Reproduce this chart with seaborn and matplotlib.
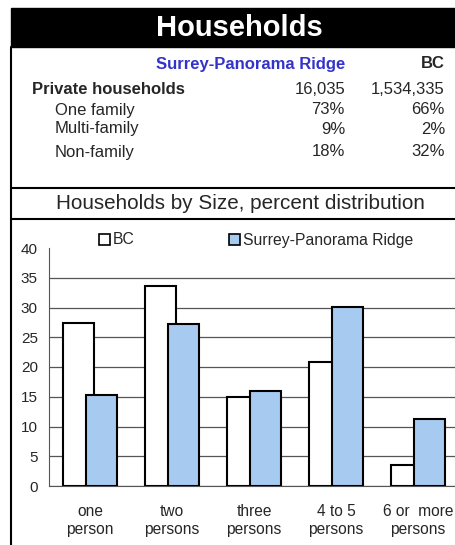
import numpy as np
import pandas as pd
import seaborn as sns
import matplotlib.pyplot as plt
from matplotlib.lines import Line2D
from matplotlib.patches import Rectangle, Patch

# data
area_name = "Surrey-Panorama Ridge"
row_labels = ["Private households", "One family", "Multi-family", "Non-family"]
area_values = ["16,035", "73%", "9%", "18%"]
bc_values = ["1,534,335", "66%", "2%", "32%"]

size_cats = ["one\nperson", "two\npersons", "three\npersons", "4 to 5\npersons", "6 or  more\npersons"]
bc_pct = [27.4, 33.6, 14.9, 20.9, 3.5]
area_pct = [15.3, 27.3, 16.0, 30.1, 11.3]

sns.set_style("white")
plt.rcParams['font.family'] = ['Liberation Sans', 'DejaVu Sans']

W, H = 455, 545
fig = plt.figure(figsize=(W / 100, H / 100), dpi=100)


def fx(x):
    return x / W


def fy(y):
    return 1 - y / H


# header bar
fig.add_artist(Rectangle((fx(11), fy(47)), fx(455) - fx(11), fy(8) - fy(47),
                         transform=fig.transFigure, color='black', zorder=0))
fig.text(fx(239), fy(28), "Households", color='white', fontsize=21, fontweight='bold',
         ha='center', va='center')

# box lines
for seg in [((11, 11), (47, 545)), ((11, 455), (188, 188)), ((11, 455), (219, 219))]:
    fig.add_artist(Line2D([fx(v) for v in seg[0]], [fy(v) for v in seg[1]],
                          transform=fig.transFigure, color='black', lw=1.5))

# summary table
tfs = 12
fig.text(fx(345), fy(64), area_name, color='#3333CC', fontsize=tfs, fontweight='bold',
         ha='right', va='center')
fig.text(fx(445), fy(64), "BC", fontsize=tfs, fontweight='bold', ha='right', va='center')
row_y = [89, 110, 129, 152]
for i, (lab, a, b) in enumerate(zip(row_labels, area_values, bc_values)):
    if i == 0:
        fig.text(fx(32), fy(row_y[i]), lab, fontsize=tfs, fontweight='bold', va='center')
    else:
        fig.text(fx(55), fy(row_y[i]), lab, fontsize=tfs, va='center')
    fig.text(fx(345), fy(row_y[i]), a, fontsize=tfs, ha='right', va='center')
    fig.text(fx(445), fy(row_y[i]), b, fontsize=tfs, ha='right', va='center')

fig.text(fx(240), fy(203), "Households by Size, percent distribution", fontsize=14.9,
         ha='center', va='center')

# bar chart
ax = fig.add_axes([fx(49), fy(486), fx(455) - fx(49), fy(248) - fy(486)])
pos = np.arange(len(size_cats))
sns.barplot(x=pos - 0.14, y=bc_pct, native_scale=True, width=0.38, color='white',
            edgecolor='black', linewidth=1.5, errorbar=None, ax=ax, zorder=2)
sns.barplot(x=pos + 0.14, y=area_pct, native_scale=True, width=0.38, color='#A6CAF0',
            saturation=1, edgecolor='black', linewidth=1.5, errorbar=None, ax=ax, zorder=3)

ax.set_xlim(-0.5, 4.45)
ax.set_ylim(0, 40)
ax.set_yticks(range(0, 41, 5))
ax.set_xticks(pos)
ax.set_xticklabels(size_cats, fontsize=11.2, linespacing=1.25)
ax.set_yticklabels([str(v) for v in range(0, 41, 5)], fontsize=11)
ax.tick_params(axis='y', length=0, pad=8)
ax.tick_params(axis='x', length=0, pad=13)
ax.set_xlabel("")
ax.set_ylabel("")
ax.set_axisbelow(True)
ax.yaxis.grid(True, color='#555555', lw=0.9)
ax.yaxis.get_gridlines()[-1].set_visible(False)
sns.despine(ax=ax, top=True, right=True)
ax.spines['left'].set_color('#555555')
ax.spines['bottom'].set_color('#555555')
ax.patch.set_alpha(0)

handles = [Patch(facecolor='white', edgecolor='black', lw=1.2, label='BC'),
           Patch(facecolor='#A6CAF0', edgecolor='black', lw=1.2, label=area_name)]
ax.legend(handles=handles, ncol=2, frameon=False, fontsize=11.3, loc='center left',
          bbox_to_anchor=(fx(99), fy(240)), bbox_transform=fig.transFigure,
          handlelength=0.7, handleheight=0.7, handletextpad=0.2, columnspacing=6.0,
          borderpad=0, borderaxespad=0)

fig.savefig("out.png", dpi=100)
